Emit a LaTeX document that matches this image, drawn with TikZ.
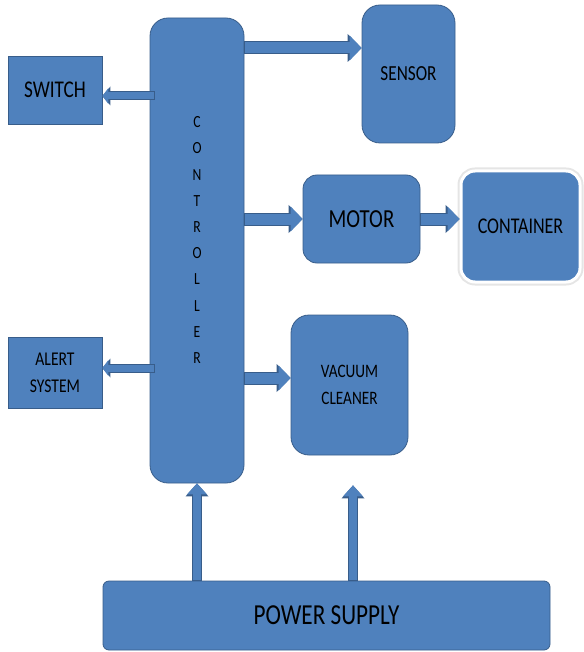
\documentclass[tikz,border=0pt]{standalone}
\usepackage{fontspec}
\newfontfamily\lbl[FakeStretch=0.8]{Carlito}
\usetikzlibrary{arrows.meta,positioning}
\definecolor{boxblue}{RGB}{79,129,189}
\definecolor{edgeblue}{RGB}{56,93,138}

\begin{document}
\begin{tikzpicture}[x=1pt, y=-1pt,
  box/.style={draw=edgeblue, fill=boxblue, line width=0.8pt, inner sep=0pt, align=center, text=black},
  unit/.style={box, rounded corners=18pt},
  bin/.style={unit, rounded corners=14pt, draw=white, line width=3pt, preaction={draw=black!10, line width=7pt}},
  pipe/.style={draw=boxblue, line width=11pt, shorten <=1pt, -{Triangle[width=25pt,length=12pt,line width=0pt]},
    preaction={draw=edgeblue, line width=13pt, shorten <=0pt, -{Triangle[width=28pt,length=14pt,line width=0pt]}}},
  thinpipe/.style={draw=boxblue, line width=7pt, shorten <=1pt, -{Triangle[width=16pt,length=6pt,line width=0pt]},
    preaction={draw=edgeblue, line width=9pt, shorten <=0pt, -{Triangle[width=19pt,length=8pt,line width=0pt]}}},
  uppipe/.style={draw=boxblue, line width=8pt, shorten <=1pt, -{Triangle[width=20pt,length=11pt,line width=0pt]},
    preaction={draw=edgeblue, line width=10pt, shorten <=0pt, -{Triangle[width=23pt,length=13pt,line width=0pt]}}},
]
  \useasboundingbox (0,0) rectangle (583,652);

  \node[unit, minimum width=94pt, minimum height=465pt] (ctrl) at (197,250.5) {};
  \node[align=center, font=\lbl\fontsize{17}{26.2}\selectfont] (ctrltext) at (197,240) {C\\O\\N\\T\\R\\O\\L\\L\\E\\R};

  \node[box, minimum width=94pt, minimum height=68pt, font=\lbl\fontsize{24}{28}\selectfont] (switch) at (55,90) {SWITCH};
  \node[box, minimum width=94pt, minimum height=71pt, font=\lbl\fontsize{19.5}{27.5}\selectfont] (alert) at (55,373) {ALERT\\SYSTEM};

  \node[unit, minimum width=93pt, minimum height=138pt, font=\lbl\fontsize{21.5}{25}\selectfont] (sensor) at (408.5,74) {SENSOR};
  \node[unit, rounded corners=14pt, minimum width=117pt, minimum height=88pt, font=\lbl\fontsize{26}{30}\selectfont] (motor) at (361.5,219) {MOTOR};
  \node[bin, minimum width=119pt, minimum height=111pt, font=\lbl\fontsize{22.5}{27}\selectfont] (container) at (520.5,226.5) {CONTAINER};
  \node[unit, minimum width=117pt, minimum height=140pt, font=\lbl\fontsize{19}{27}\selectfont] (vacuum) at (349.5,385) {VACUUM\\CLEANER};

  \node[box, rounded corners=6pt, minimum width=447pt, minimum height=69pt, font=\lbl\fontsize{29}{33}\selectfont] (power) at (326.5,615.5) {POWER SUPPLY};

  % links out of the controller
  \coordinate (senin) at ([yshift=26pt]sensor.west);
  \coordinate (vacin) at ([yshift=7pt]vacuum.west);
  \coordinate (swfrom) at (155,96);
  \coordinate (alfrom) at (155,368);
  \coordinate (vacfeed) at ([xshift=3.5pt, yshift=-30pt]vacuum.south);

  \draw[pipe] (ctrl.east |- senin) -- (senin);
  \draw[pipe] (ctrl.east |- motor.west) -- (motor.west);
  \draw[pipe] (motor.east) -- (motor.east -| container.west);
  \draw[pipe] (ctrl.east |- vacin) -- (vacin);
  \draw[thinpipe] (swfrom) -- (swfrom -| switch.east);
  \draw[thinpipe] (alfrom) -- (alfrom -| alert.east);

  % supply lines
  \draw[uppipe] (power.north -| ctrl.south) -- (ctrl.south);
  \draw[uppipe] (power.north -| vacfeed) -- (vacfeed);
\end{tikzpicture}
\end{document}
